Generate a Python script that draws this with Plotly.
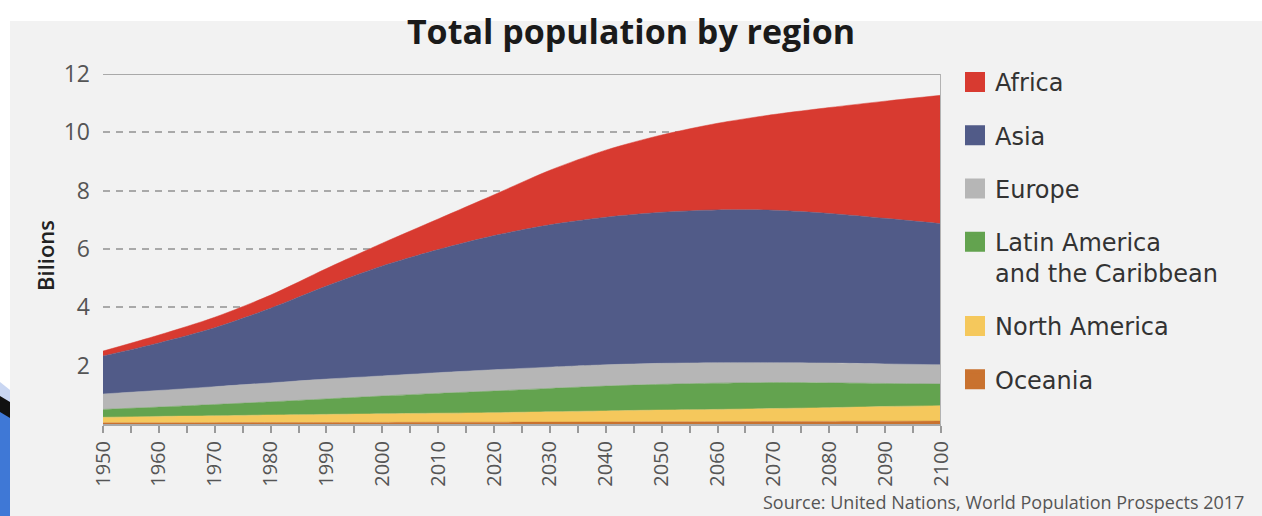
import plotly.graph_objects as go

# ---- data (billions) ----
years = list(range(1950, 2101, 10))
oceania = [0.04, 0.04, 0.045, 0.05, 0.05, 0.055, 0.06, 0.06, 0.065, 0.07, 0.075, 0.08, 0.085, 0.09, 0.095, 0.10]
north_america = [0.19, 0.22, 0.235, 0.26, 0.28, 0.295, 0.31, 0.33, 0.355, 0.38, 0.405, 0.42, 0.445, 0.47, 0.505, 0.53]
latin_america = [0.27, 0.32, 0.39, 0.45, 0.53, 0.61, 0.68, 0.74, 0.80, 0.85, 0.88, 0.90, 0.89, 0.85, 0.79, 0.74]
europe = [0.53, 0.57, 0.61, 0.65, 0.68, 0.69, 0.71, 0.73, 0.73, 0.73, 0.72, 0.70, 0.68, 0.68, 0.67, 0.66]
asia = [1.30, 1.63, 2.02, 2.56, 3.19, 3.77, 4.22, 4.60, 4.88, 5.06, 5.18, 5.24, 5.23, 5.13, 4.99, 4.84]
africa = [0.17, 0.27, 0.36, 0.45, 0.60, 0.78, 1.05, 1.40, 1.87, 2.30, 2.65, 2.97, 3.28, 3.63, 4.02, 4.40]

x_tick_vals = list(range(1950, 2101, 10))
y_tick_vals = [2, 4, 6, 8, 10, 12]

legend_names = ["Africa", "Asia", "Europe", "Latin America<br>and the Caribbean", "North America", "Oceania"]

colors = {
    "Oceania": "#c9722f",
    "North America": "#f5c85c",
    "Latin America": "#63a34f",
    "Europe": "#b6b6b6",
    "Asia": "#515b88",
    "Africa": "#d83a30",
}

# ---- figure geometry (pixels) ----
W, H = 1262, 516
L, R, T, B = 103, 941, 74, 424  # plot area edges


def px(xp):
    return (xp - L) / (R - L)


def py(yp):
    return (B - yp) / (B - T)


fig = go.Figure()

stack = [
    ("Oceania", oceania),
    ("North America", north_america),
    ("Latin America", latin_america),
    ("Europe", europe),
    ("Asia", asia),
    ("Africa", africa),
]
for name, vals in stack:
    fig.add_trace(go.Scatter(
        x=years, y=vals, name=name, stackgroup="one", mode="lines",
        line=dict(width=0.5, color=colors[name], shape="spline", smoothing=0.8),
        fillcolor=colors[name], showlegend=False, hoverinfo="skip",
    ))

legend_keys = ["Africa", "Asia", "Europe", "Latin America", "North America", "Oceania"]
for key, label in zip(legend_keys, legend_names):
    fig.add_trace(go.Scatter(
        x=[None], y=[None], mode="markers", name=label, legendgroup=key,
        marker=dict(symbol="square", size=16, color=colors[key],
                    line=dict(width=4, color=colors[key])),
    ))

bg = "#f2f2f2"
shapes = [
    # slide-area light gray background
    dict(type="rect", xref="paper", yref="paper", x0=px(10), x1=px(W + 5), y0=py(21), y1=py(H + 5),
         fillcolor=bg, line=dict(width=0), layer="below"),
    # left decoration
    dict(type="path", xref="paper", yref="paper",
         path=f"M {px(0)},{py(382)} L {px(10)},{py(390)} L {px(10)},{py(H+5)} L {px(0)},{py(H+5)} Z",
         fillcolor="#c9d6f2", line=dict(width=0)),
    dict(type="path", xref="paper", yref="paper",
         path=f"M {px(0)},{py(396)} L {px(10)},{py(402)} L {px(10)},{py(H+5)} L {px(0)},{py(H+5)} Z",
         fillcolor="#111111", line=dict(width=0)),
    dict(type="path", xref="paper", yref="paper",
         path=f"M {px(0)},{py(412)} L {px(10)},{py(418)} L {px(10)},{py(H+5)} L {px(0)},{py(H+5)} Z",
         fillcolor="#3f78d6", line=dict(width=0)),
    # top border line at 12 and right border
    dict(type="line", xref="x domain", yref="y", x0=0, x1=1, y0=12, y1=12,
         line=dict(color="#a9a9a9", width=2)),
    dict(type="line", xref="x", yref="y domain", x0=2100, x1=2100, y0=0, y1=1,
         line=dict(color="#b3b3b3", width=2)),
]

fig.update_layout(
    width=W, height=H,
    margin=dict(l=L, r=W - R, t=T, b=H - B),
    paper_bgcolor="white",
    plot_bgcolor=bg,
    font=dict(family="Open Sans", color="#555555"),
    title=dict(text="<b>Total population by region</b>", x=0.5, xref="container", xanchor="center",
               y=1 - 32 / H, yanchor="middle", yref="container",
               font=dict(family="Open Sans", size=34, color="#1a1a1a")),
    shapes=shapes,
    showlegend=True,
    legend=dict(x=px(955), y=py(60), xanchor="left", yanchor="top",
                traceorder="grouped", tracegroupgap=19, valign="top", maxheight=800,
                font=dict(family="DejaVu Sans", size=24, color="#333333"),
                bgcolor="rgba(0,0,0,0)", itemclick=False, itemdoubleclick=False),
    annotations=[
        dict(text="Source: United Nations, World Population Prospects 2017",
             xref="paper", yref="paper", x=px(1246), y=py(502), xanchor="right", yanchor="middle",
             showarrow=False, font=dict(family="Open Sans", size=18, color="#555555")),
        dict(text="Bilions", textangle=-90,
             xref="paper", yref="paper", x=px(45), y=py(256), xanchor="center", yanchor="middle",
             showarrow=False, font=dict(family="Open Sans", size=22, weight=600, color="#222222")),
    ],
)

fig.update_xaxes(
    range=[1950, 2100], tickvals=x_tick_vals, ticktext=[str(v) for v in x_tick_vals],
    tickangle=-90, ticks="outside", ticklen=7, tickwidth=1.5, tickcolor="#9a9a9a",
    minor=dict(dtick=5, tick0=1950, ticks="outside", ticklen=7, tickwidth=1.5, tickcolor="#9a9a9a", showgrid=False),
    showgrid=False, showline=True, linecolor="#a9a9a9", linewidth=2, zeroline=False,
    tickfont=dict(family="Open Sans", size=20, color="#555555"),
)
fig.update_yaxes(
    range=[0, 12], tickvals=y_tick_vals, ticktext=[str(v) for v in y_tick_vals],
    showgrid=True, gridcolor="#a9a9a9", gridwidth=1.5, griddash="7px,6px",
    showline=False, zeroline=False, ticks="", ticklabelstandoff=12,
    tickfont=dict(family="Open Sans", size=23, color="#555555"),
)

fig.write_html("out.html", config={"displayModeBar": False},
               post_script="document.body.style.margin='0px';")
